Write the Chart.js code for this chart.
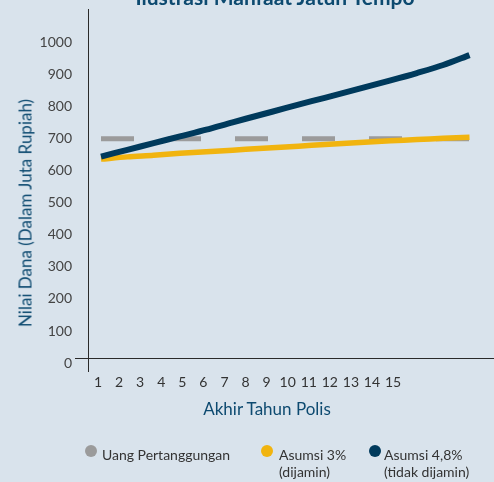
<!DOCTYPE html>
<html>
<head>
<meta charset="utf-8">
<script src="https://cdn.jsdelivr.net/npm/chart.js@4/dist/chart.umd.min.js"></script>
<style>
  html, body { margin: 0; padding: 0; }
  body { width: 494px; height: 482px; background: #d9e3ec; position: relative; overflow: hidden; font-family: Lato, "Noto Sans", sans-serif; }
  #wrap { position: absolute; left: 0; top: 0; width: 494px; height: 482px; }
  .t { position: absolute; white-space: nowrap; }
  #title { font-weight: bold; font-size: 21px; color: #0d4a70; left: 275px; top: -16px; transform: translateX(-50%); }
  #ytitle { font-size: 17px; color: #0d4a70; left: 25px; top: 213px; transform: translate(-50%, -50%) rotate(-90deg); }
  #xtitle { font-size: 17px; color: #0d4a70; left: 267px; top: 408px; transform: translate(-50%, -50%); }
  .leg { position: absolute; top: 444px; font-size: 14px; color: #333; line-height: 17px; }
  .leg .dot { position: absolute; left: 0; top: 1px; width: 12px; height: 12px; border-radius: 50%; }
  .leg .txt { position: absolute; top: 2px; white-space: nowrap; }
</style>
</head>
<body>
<div id="wrap"><canvas id="c" width="494" height="482"></canvas></div>
<div class="t" id="title">Ilustrasi Manfaat Jatuh Tempo</div>
<div class="t" id="ytitle">Nilai Dana (Dalam Juta Rupiah)</div>
<div class="t" id="xtitle">Akhir Tahun Polis</div>
<div id="legend"></div>
<script>
// ---- data ----
const years = [1, 2, 3, 4, 5, 6, 7, 8, 9, 10, 11, 12, 13, 14, 15];
const xTickLabels = ["1","2","3","4","5","6","7","8","9","10","11","12","13","14","15"];
const yTickValues = [0, 100, 200, 300, 400, 500, 600, 700, 800, 900, 1000];
const yTickLabels = ["0","100","200","300","400","500","600","700","800","900","1000"];
const seriesNames = ["Uang Pertanggungan", ["Asumsi 3%", "(dijamin)"], ["Asumsi 4,8%", "(tidak dijamin)"]];
const uangPertanggungan = [701, 701, 701, 701, 701, 701, 701, 701, 701, 701, 701, 701, 701, 701, 701];
const asumsi3 = [637, 644, 649, 655, 660, 665, 670, 675, 680, 685, 690, 694, 698, 702, 705];
const asumsi48 = [645, 666, 687, 708, 729, 752, 774, 796, 818, 839, 861, 883, 906, 931, 962];
const seriesColors = ["#9b9b9b", "#f1b40f", "#003a5c"];

const toXY = arr => arr.map((v, i) => ({ x: years[i], y: v }));

const axisLines = {
  id: 'axisLines',
  afterDraw(chart) {
    const { ctx, chartArea: a } = chart;
    ctx.save();
    ctx.strokeStyle = '#2a2a2a';
    ctx.lineWidth = 1;
    ctx.beginPath();
    ctx.moveTo(a.left + 0.5, a.top);
    ctx.lineTo(a.left + 0.5, a.bottom + 14);
    ctx.moveTo(a.left - 13, a.bottom + 0.5);
    ctx.lineTo(a.right, a.bottom + 0.5);
    ctx.stroke();
    ctx.restore();
  }
};

const noPad = s => { s.paddingTop = 0; s.paddingBottom = 0; s.paddingLeft = 0; s.paddingRight = 0; };

const chart = new Chart(document.getElementById('c'), {
  type: 'line',
  data: {
    datasets: [
      { label: 'Uang Pertanggungan', data: toXY(uangPertanggungan), xAxisID: 'xd', yAxisID: 'y',
        borderColor: seriesColors[0], borderWidth: 5, borderDash: [33, 34], borderCapStyle: 'butt', pointRadius: 0, tension: 0, order: 3 },
      { label: 'Asumsi 3% (dijamin)', data: toXY(asumsi3), xAxisID: 'xd', yAxisID: 'y',
        borderColor: seriesColors[1], borderWidth: 5.5, borderCapStyle: 'butt', pointRadius: 0, tension: 0.3, order: 2 },
      { label: 'Asumsi 4,8% (tidak dijamin)', data: toXY(asumsi48), xAxisID: 'xd', yAxisID: 'y',
        borderColor: seriesColors[2], borderWidth: 6, borderCapStyle: 'butt', pointRadius: 0, tension: 0.3, order: 1 }
    ]
  },
  options: {
    responsive: false,
    animation: false,
    layout: { padding: { top: 9, left: 0, right: 0, bottom: 0 } },
    plugins: { legend: { display: false }, tooltip: { enabled: false }, title: { display: false } },
    scales: {
      x: {
        type: 'linear', position: 'bottom', min: 0.525, max: 19.79,
        grid: { display: false, drawTicks: false }, border: { display: false },
        afterBuildTicks: s => { s.ticks = years.map(v => ({ value: v })); },
        afterFit: s => { s.height = 124; noPad(s); },
        ticks: { padding: 16, autoSkip: false, maxRotation: 0, color: '#333',
          font: { family: 'Lato', size: 14 },
          callback: (v) => xTickLabels[years.indexOf(v)] }
      },
      xd: {
        type: 'linear', position: 'bottom', display: false, min: 0.506, max: 15.93,
        afterFit: s => { noPad(s); }
      },
      y: {
        type: 'linear', min: 15.6, max: 1106,
        grid: { display: false, drawTicks: false }, border: { display: false },
        afterBuildTicks: s => { s.ticks = yTickValues.map(v => ({ value: v })); },
        afterFit: s => { s.width = 88; noPad(s); },
        ticks: { padding: 16, color: '#444', font: { family: 'Lato', size: 14 },
          callback: (v) => yTickLabels[yTickValues.indexOf(v)] }
      }
    }
  },
  plugins: [axisLines]
});

// HTML legend built from series names and colours
const legendLefts = [85, 261, 369];
const legendTextOffsets = [17, 18, 15];
const legendEl = document.getElementById('legend');
seriesNames.forEach((name, i) => {
  const item = document.createElement('div');
  item.className = 'leg';
  item.style.left = legendLefts[i] + 'px';
  const dot = document.createElement('div');
  dot.className = 'dot';
  dot.style.background = seriesColors[i];
  const txt = document.createElement('div');
  txt.className = 'txt';
  txt.style.left = legendTextOffsets[i] + 'px';
  txt.innerHTML = (Array.isArray(name) ? name : [name]).join('<br>');
  item.appendChild(dot);
  item.appendChild(txt);
  legendEl.appendChild(item);
});
</script>
</body>
</html>
